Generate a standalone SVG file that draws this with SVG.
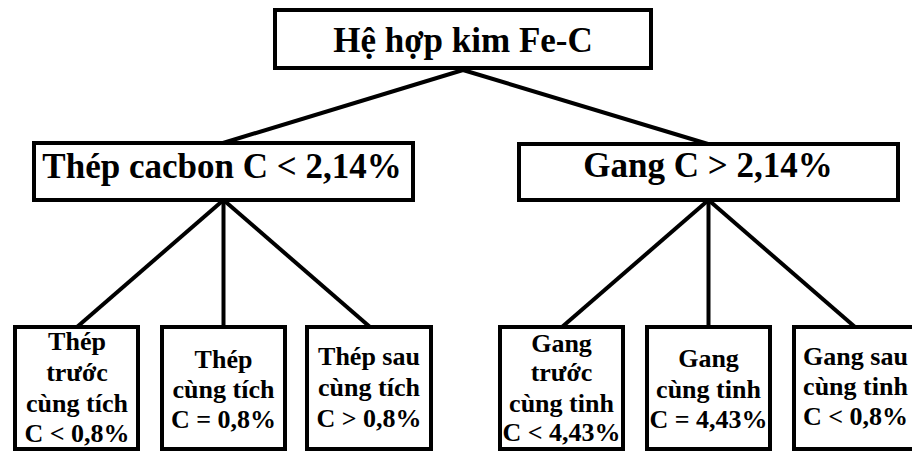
<svg xmlns="http://www.w3.org/2000/svg" width="912" height="456" viewBox="0 0 912 456">
<style>
rect{fill:#fff;stroke:#000;stroke-width:4}
line{stroke:#000;stroke-width:4}
text{font-family:"Liberation Serif","Times New Roman",serif;font-weight:bold;fill:#000;text-anchor:middle}
.big{font-size:35px}
.sm{font-size:26px}
</style>
<rect x="0" y="0" width="912" height="456" style="stroke:none"/>
<g id="connectors">
<line x1="463" y1="70" x2="223" y2="143"/>
<line x1="463" y1="70" x2="708" y2="144"/>
<line x1="223.5" y1="200" x2="77" y2="327"/>
<line x1="223.5" y1="200" x2="223.5" y2="327"/>
<line x1="223.5" y1="200" x2="370" y2="327"/>
<line x1="708.5" y1="200" x2="562" y2="327"/>
<line x1="708.5" y1="200" x2="708.5" y2="327"/>
<line x1="708.5" y1="200" x2="855" y2="327"/>
</g>
<g id="root">
<rect x="275" y="10" width="376" height="58"/>
<text class="big" x="463" y="52">Hệ hợp kim Fe-C</text>
</g>
<g id="thep">
<rect x="34" y="143" width="379" height="57"/>
<text class="big" x="222" y="178">Thép cacbon C &lt; 2,14%</text>
</g>
<g id="gang">
<rect x="519" y="144" width="379" height="56"/>
<text class="big" x="708" y="177">Gang C &gt; 2,14%</text>
</g>
<g id="thep-truoc">
<rect x="15" y="327" width="123" height="122"/>
<text class="sm" x="77" y="350">Thép</text>
<text class="sm" x="77" y="381">trước</text>
<text class="sm" x="77" y="412">cùng tích</text>
<text class="sm" x="77" y="442">C &lt; 0,8%</text>
</g>
<g id="thep-cung">
<rect x="162" y="327" width="123" height="122"/>
<text class="sm" x="223.5" y="368">Thép</text>
<text class="sm" x="223.5" y="398">cùng tích</text>
<text class="sm" x="223.5" y="428">C = 0,8%</text>
</g>
<g id="thep-sau">
<rect x="307" y="327" width="124" height="122"/>
<text class="sm" x="369" y="365">Thép sau</text>
<text class="sm" x="369" y="396">cùng tích</text>
<text class="sm" x="369" y="427">C &gt; 0,8%</text>
</g>
<g id="gang-truoc">
<rect x="500" y="327" width="123" height="122"/>
<text class="sm" x="561.5" y="352">Gang</text>
<text class="sm" x="561.5" y="381">trước</text>
<text class="sm" x="561.5" y="412">cùng tinh</text>
<text class="sm" x="561.5" y="441">C &lt; 4,43%</text>
</g>
<g id="gang-cung">
<rect x="647" y="327" width="123" height="122"/>
<text class="sm" x="708.5" y="367">Gang</text>
<text class="sm" x="708.5" y="398">cùng tinh</text>
<text class="sm" x="708.5" y="428">C = 4,43%</text>
</g>
<g id="gang-sau">
<rect x="794" y="327" width="123" height="122"/>
<text class="sm" x="855.5" y="365">Gang sau</text>
<text class="sm" x="855.5" y="395">cùng tinh</text>
<text class="sm" x="855.5" y="425">C &lt; 0,8%</text>
</g>
</svg>
